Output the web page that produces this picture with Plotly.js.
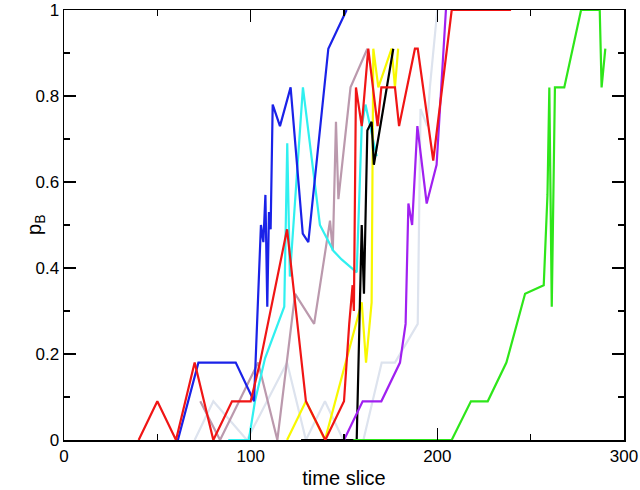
<!DOCTYPE html>
<html><head><meta charset="utf-8">
<script src="https://cdn.plot.ly/plotly-3.0.1.min.js"></script>
<style>html,body{margin:0;padding:0;background:#fff}#chart{width:640px;height:490px}</style>
</head><body><div id="chart"></div>
<script>
const lightX = [70,80,98,119.5,129.6,139.8,149.6,160.4,170.2,177.3,189.5,191,194.6,196,200];
const lightY = [0,0.09,0,0.18,0,0.09,0,0,0.18,0.18,0.27,0.77,0.73,0.82,1];
const mauveX = [73,83.6,104,114.3,123.8,134,142.5,144,145.7,147,153.5,162.5];
const mauveY = [0.09,0,0.18,0,0.34,0.27,0.51,0.44,0.74,0.56,0.82,0.91];
const cyanX = [88,99,102.3,107.7,118,119.6,121,128,137.1,144.3,148.7,156.8,159.5,161.5,167.5];
const cyanY = [0,0,0.09,0.19,0.31,0.69,0.38,0.82,0.5,0.44,0.42,0.39,0.73,0.78,0.66];
const yellowX = [119.5,129.6,139.8,159.5,161.8,164.8,165.7,168.4,175.5,177.3,179];
const yellowY = [0,0.09,0,0.32,0.18,0.32,0.91,0.82,0.91,0.82,0.91];
const blackX = [127,156.8,159.5,160.7,162.5,164.8,166,176.4];
const blackY = [0,0,0.5,0.34,0.72,0.74,0.64,0.91];
const purpleX = [150,160,170,180,183,184.5,186.5,189.3,194.3,199.6,204.6];
const purpleY = [0,0.09,0.09,0.18,0.27,0.55,0.5,0.73,0.55,0.64,1];
const greenX = [155,207.7,218,227,237,247,257,259,260,261.3,263,268,277,287,288,290];
const greenY = [0,0,0.09,0.09,0.18,0.34,0.36,0.57,0.82,0.31,0.82,0.82,1,1,0.82,0.91];
const blueX = [61,72,92,101.8,105.5,106.8,107.9,108.9,109.8,110.7,111.8,115.7,121.4,127.9,130.9,141.6,151.4];
const blueY = [0,0.18,0.18,0.09,0.5,0.46,0.57,0.31,0.53,0.49,0.78,0.73,0.82,0.48,0.46,0.91,1];
const redX = [40,50,60,70,80,90,100,105,119.5,129.6,140,150,152.8,154.6,155.3,156.4,159.5,163,168,170,177.3,179.5,188,189.5,197.8,207.7,239.5];
const redY = [0,0.09,0,0.18,0,0.09,0.09,0.18,0.49,0.09,0,0.09,0.27,0.36,0.3,0.82,0.73,0.91,0.73,0.82,0.82,0.73,0.91,0.91,0.65,1,1];

const seriesList = [
  [lightX, lightY, '#dde3ee'],
  [mauveX, mauveY, '#bb99ad'],
  [cyanX, cyanY, '#30f0f0'],
  [yellowX, yellowY, '#f8f800'],
  [blackX, blackY, '#000000'],
  [purpleX, purpleY, '#a020f0'],
  [greenX, greenY, '#2ee61a'],
  [blueX, blueY, '#1a22e8'],
  [redX, redY, '#f01515']
];
const traces = seriesList.map(s => ({
  x: s[0], y: s[1], type: 'scatter', mode: 'lines', cliponaxis: false,
  line: {color: s[2], width: 2.2}, showlegend: false, hoverinfo: 'skip'
}));
const fontFam = 'Liberation Sans, Arial, sans-serif';
const axisCommon = {
  showgrid: false, zeroline: false, showline: true, linecolor: '#000', linewidth: 1.5,
  mirror: 'allticks', ticks: 'inside', ticklen: 12, tickwidth: 1.5, tickcolor: '#000',
  tickfont: {family: fontFam, size: 17, color: '#000'}
};
const layout = {
  width: 640, height: 490,
  margin: {l: 64, r: 16, t: 10, b: 50},
  paper_bgcolor: '#fff', plot_bgcolor: '#fff',
  xaxis: Object.assign({}, axisCommon, {
    range: [0, 300], tickvals: [0,100,200,300], ticktext: ['0','100','200','300'],
    minor: {tickvals: [50,150,250], ticks: 'inside', ticklen: 6, tickwidth: 1.5, tickcolor: '#000'},
    title: {text: 'time slice', font: {family: fontFam, size: 20, color: '#000'}, standoff: 6}
  }),
  yaxis: Object.assign({}, axisCommon, {
    range: [0, 1], tickvals: [0,0.2,0.4,0.6,0.8,1], ticktext: ['0','0.2','0.4','0.6','0.8','1'],
    minor: {tickvals: [0.1,0.3,0.5,0.7,0.9], ticks: 'inside', ticklen: 6, tickwidth: 1.5, tickcolor: '#000'}
  }),
  annotations: [{
    text: 'p<sub>B</sub>', xref: 'paper', yref: 'paper', x: -0.052, y: 0.5,
    xanchor: 'center', yanchor: 'middle', textangle: -90, showarrow: false,
    font: {family: fontFam, size: 20, color: '#000'}
  }]
};
Plotly.newPlot('chart', traces, layout, {displayModeBar: false, staticPlot: true});
</script></body></html>
